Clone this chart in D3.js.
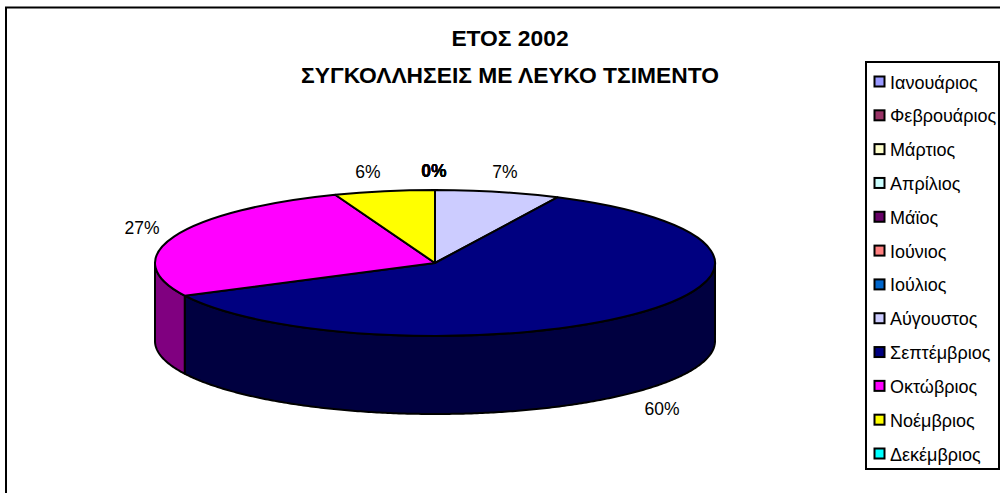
<!DOCTYPE html>
<html><head><meta charset="utf-8">
<script src="https://cdn.jsdelivr.net/npm/d3@7"></script>
<style>html,body{margin:0;padding:0;background:#fff;overflow:hidden}svg{display:block}text{font-family:"Liberation Sans",Arial,sans-serif;fill:#000}</style>
</head><body><svg id="c" width="1000" height="493"></svg>
<script>
const months = ["Ιανουάριος","Φεβρουάριος","Μάρτιος","Απρίλιος","Μάϊος","Ιούνιος","Ιούλιος","Αύγουστος","Σεπτέμβριος","Οκτώβριος","Νοέμβριος","Δεκέμβριος"];
const shares = [0,0,0,0,0,0,0,7.2,60.4,26.6,5.8,0];
const colors = ["#9999FF","#993366","#FFFFCC","#CCFFFF","#660066","#FF8080","#0066CC","#CCCCFF","#000080","#FF00FF","#FFFF00","#00FFFF"];
const sideColors = ["#4C4C80","#4C1933","#808066","#668080","#330033","#804040","#003366","#666680","#000040","#800080","#808000","#008080"];
const titleLines = ["ΕΤΟΣ 2002","ΣΥΓΚΟΛΛΗΣΕΙΣ ΜΕ ΛΕΥΚΟ ΤΣΙΜΕΝΤΟ"];

const svg = d3.select("#c");
const cx=435, cy=263, rx=280, ry=73, depth=78;
svg.append("rect").attr("x",6).attr("y",7.5).attr("width",1100).attr("height",600).attr("fill","#fff").attr("stroke","#000").attr("stroke-width",2);

svg.selectAll("text.title").data(titleLines).join("text").attr("class","title")
  .attr("x",510).attr("y",(d,i)=>46+i*37).attr("text-anchor","middle").attr("font-size",22.8).attr("font-weight","bold").text(d=>d);

const pie = d3.pie().value(d=>d.v).sort(null);
const arcs = pie(months.map((m,i)=>({m,v:shares[i],i})));
const px = a=>cx+rx*Math.sin(a), py=a=>cy-ry*Math.cos(a);

// side walls (front half only)
const lo=Math.PI/2, hi=Math.PI*3/2;
const wall = d3.line();
arcs.forEach(a=>{
  const s=Math.max(a.startAngle,lo), e=Math.min(a.endAngle,hi);
  if(e<=s) return;
  const as=d3.range(s,e,0.01).concat([e]);
  const pts=as.map(t=>[px(t),py(t)]).concat(as.slice().reverse().map(t=>[px(t),py(t)+depth]));
  svg.append("path").attr("d",wall(pts)+"Z").attr("fill",sideColors[a.data.i]).attr("stroke","#000").attr("stroke-width",2).attr("stroke-linejoin","round");
});

// top face
const arcGen = d3.arc().innerRadius(0).outerRadius(rx);
const topFace = svg.append("g").attr("transform",`translate(${cx},${cy}) scale(1,${ry/rx})`);
topFace.selectAll("path").data(arcs.filter(a=>a.value>0)).join("path")
  .attr("d",arcGen).attr("fill",d=>colors[d.data.i]).attr("stroke","#000").attr("stroke-width",2)
  .attr("stroke-linejoin","round").attr("vector-effect","non-scaling-stroke");

// data labels
const fmt = v=>d3.format(".0f")(v)+"%";
const labelPos = {7:[505,178],8:[662,415],9:[142,234],10:[368,178]};
arcs.forEach((a,k)=>{
  const i=a.data.i;
  const p = a.value>0 ? labelPos[i] : [434,177];
  svg.append("text").attr("x",p[0]).attr("y",p[1]).attr("text-anchor","middle").attr("font-size",17.5)
    .attr("font-weight",a.value>0?"normal":"bold").attr("fill-opacity",a.value>0?1:0.5).text(fmt(a.value));
});

// legend
svg.append("rect").attr("x",866).attr("y",62).attr("width",133).attr("height",407).attr("fill","#fff").attr("stroke","#000").attr("stroke-width",2);
const ly=d3.scalePoint().domain(months).range([82,454]);
const g=svg.selectAll("g.leg").data(months).join("g").attr("class","leg").attr("transform",d=>`translate(0,${ly(d)})`);
g.append("rect").attr("x",874.5).attr("y",-5.5).attr("width",10).attr("height",10).attr("fill",(d,i)=>colors[i]).attr("stroke","#000").attr("stroke-width",2);
g.append("text").attr("x",890).attr("y",6.5).attr("font-size",18).text(d=>d);
</script></body></html>
